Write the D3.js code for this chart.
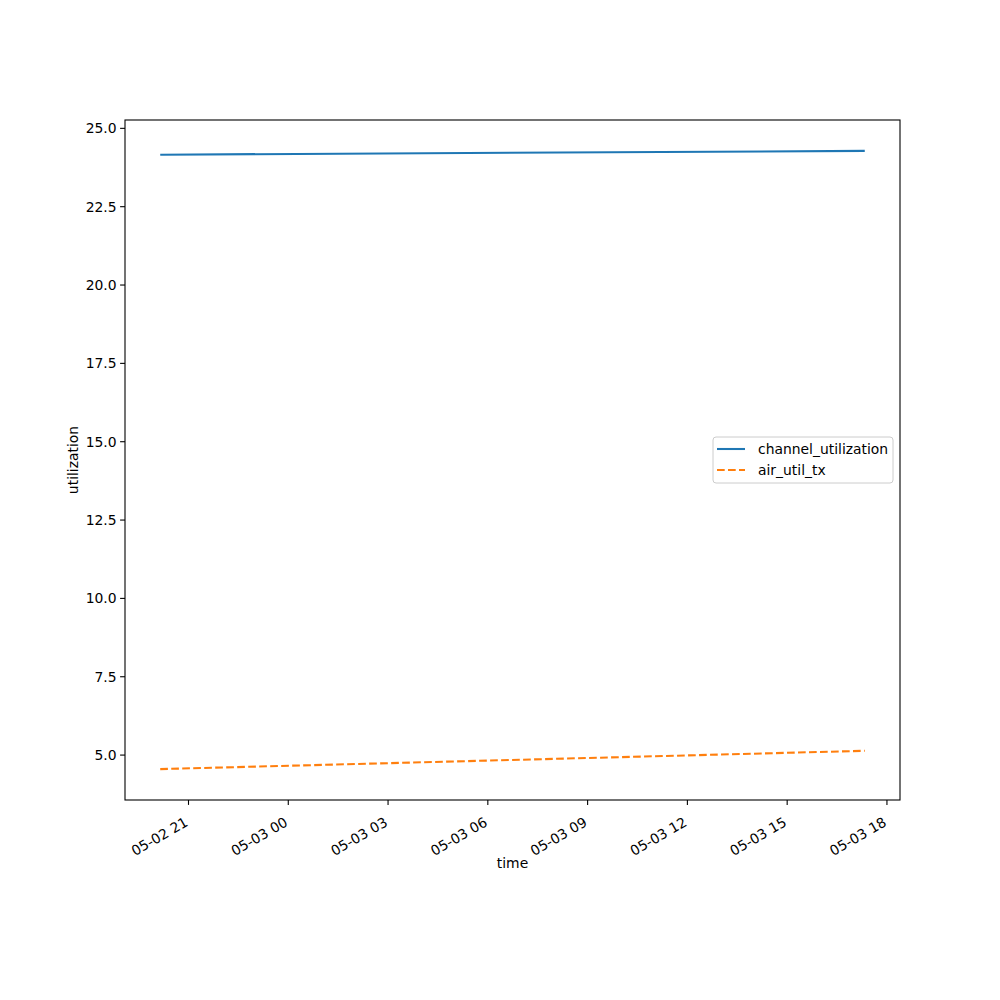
<!DOCTYPE html>
<html>
<head>
<meta charset="utf-8">
<script src="https://cdn.jsdelivr.net/npm/d3@7"></script>
<style>
  html, body { margin: 0; padding: 0; background: #fff; }
  svg { display: block; font-family: "DejaVu Sans", sans-serif; }
</style>
</head>
<body>
<svg id="chart" width="1000" height="1000"></svg>
<script>
// ---- data ----
const times = ["2024-05-02T20:09:00Z", "2024-05-03T17:20:00Z"];
const channelUtilization = [24.16, 24.28];
const airUtilTx = [4.553, 5.137];
const seriesNames = ["channel_utilization", "air_util_tx"];
const seriesColors = ["#1f77b4", "#ff7f0e"];
const xLabel = "time";
const yLabel = "utilization";
const yTicks = [5.0, 7.5, 10.0, 12.5, 15.0, 17.5, 20.0, 22.5, 25.0];

// ---- layout ----
const svg = d3.select("#chart");
const L = 125, R = 900, T = 120, B = 800;
const parsed = times.map(t => new Date(t));
const series = [channelUtilization, airUtilTx].map((vals, i) => ({
  name: seriesNames[i], color: seriesColors[i],
  pts: vals.map((v, j) => ({ t: parsed[j], v }))
}));

// matplotlib-like 5% margins
const tExt = d3.extent(parsed);
const tPad = (tExt[1] - tExt[0]) * 0.05;
const allV = channelUtilization.concat(airUtilTx);
const vExt = d3.extent(allV);
const vPad = (vExt[1] - vExt[0]) * 0.05;

const x = d3.scaleUtc()
  .domain([new Date(+tExt[0] - tPad), new Date(+tExt[1] + tPad)])
  .range([L, R]);
const y = d3.scaleLinear()
  .domain([vExt[0] - vPad, vExt[1] + vPad])
  .range([B, T]);

const fontSize = 13.9;

// lines
const line = d3.line().x(d => x(d.t)).y(d => y(d.v));
series.forEach((s, i) => {
  svg.append("path")
    .attr("d", line(s.pts))
    .attr("fill", "none")
    .attr("stroke", s.color)
    .attr("stroke-width", 2.08)
    .attr("stroke-dasharray", i === 1 ? "7.7,3.3" : null);
});

// frame
svg.append("rect")
  .attr("x", L).attr("y", T).attr("width", R - L).attr("height", B - T)
  .attr("fill", "none").attr("stroke", "#000").attr("stroke-width", 1.1);

// x axis
const xTickVals = x.ticks(d3.utcHour.every(3));
const fmt = d3.utcFormat("%m-%d %H");
const xAxis = svg.append("g");
xTickVals.forEach(t => {
  const px = x(t);
  xAxis.append("line").attr("x1", px).attr("x2", px).attr("y1", B).attr("y2", B + 4.9)
    .attr("stroke", "#000").attr("stroke-width", 1.1);
  xAxis.append("text")
    .attr("transform", `translate(${px + 0.5},${B + 25}) rotate(-30)`)
    .attr("text-anchor", "end")
    .attr("font-size", fontSize)
    .attr("fill", "#000")
    .text(fmt(t));
});

// y axis
const yAxis = svg.append("g");
yTicks.forEach(v => {
  const py = y(v);
  yAxis.append("line").attr("x1", L - 4.9).attr("x2", L).attr("y1", py).attr("y2", py)
    .attr("stroke", "#000").attr("stroke-width", 1.1);
  yAxis.append("text")
    .attr("x", L - 8.4).attr("y", py)
    .attr("dy", "0.36em")
    .attr("text-anchor", "end")
    .attr("font-size", fontSize)
    .attr("fill", "#000")
    .text(v.toFixed(1));
});

// axis labels
svg.append("text")
  .attr("x", (L + R) / 2).attr("y", 868)
  .attr("text-anchor", "middle").attr("font-size", fontSize).text(xLabel);
svg.append("text")
  .attr("transform", `translate(77.5,${(T + B) / 2}) rotate(-90)`)
  .attr("text-anchor", "middle").attr("font-size", fontSize).text(yLabel);

// legend
const lg = svg.append("g");
lg.append("rect")
  .attr("x", 713).attr("y", 437).attr("width", 180).attr("height", 46)
  .attr("rx", 3).attr("ry", 3)
  .attr("fill", "#fff").attr("fill-opacity", 0.8)
  .attr("stroke", "#cccccc").attr("stroke-width", 1);
series.forEach((s, i) => {
  const ly = 449 + i * 21;
  lg.append("line")
    .attr("x1", 717).attr("x2", 745).attr("y1", ly).attr("y2", ly)
    .attr("stroke", s.color).attr("stroke-width", 2.08)
    .attr("stroke-dasharray", i === 1 ? "7.7,3.3" : null);
  lg.append("text")
    .attr("x", 758).attr("y", ly).attr("dy", "0.36em")
    .attr("font-size", fontSize).text(s.name);
});
</script>
</body>
</html>
